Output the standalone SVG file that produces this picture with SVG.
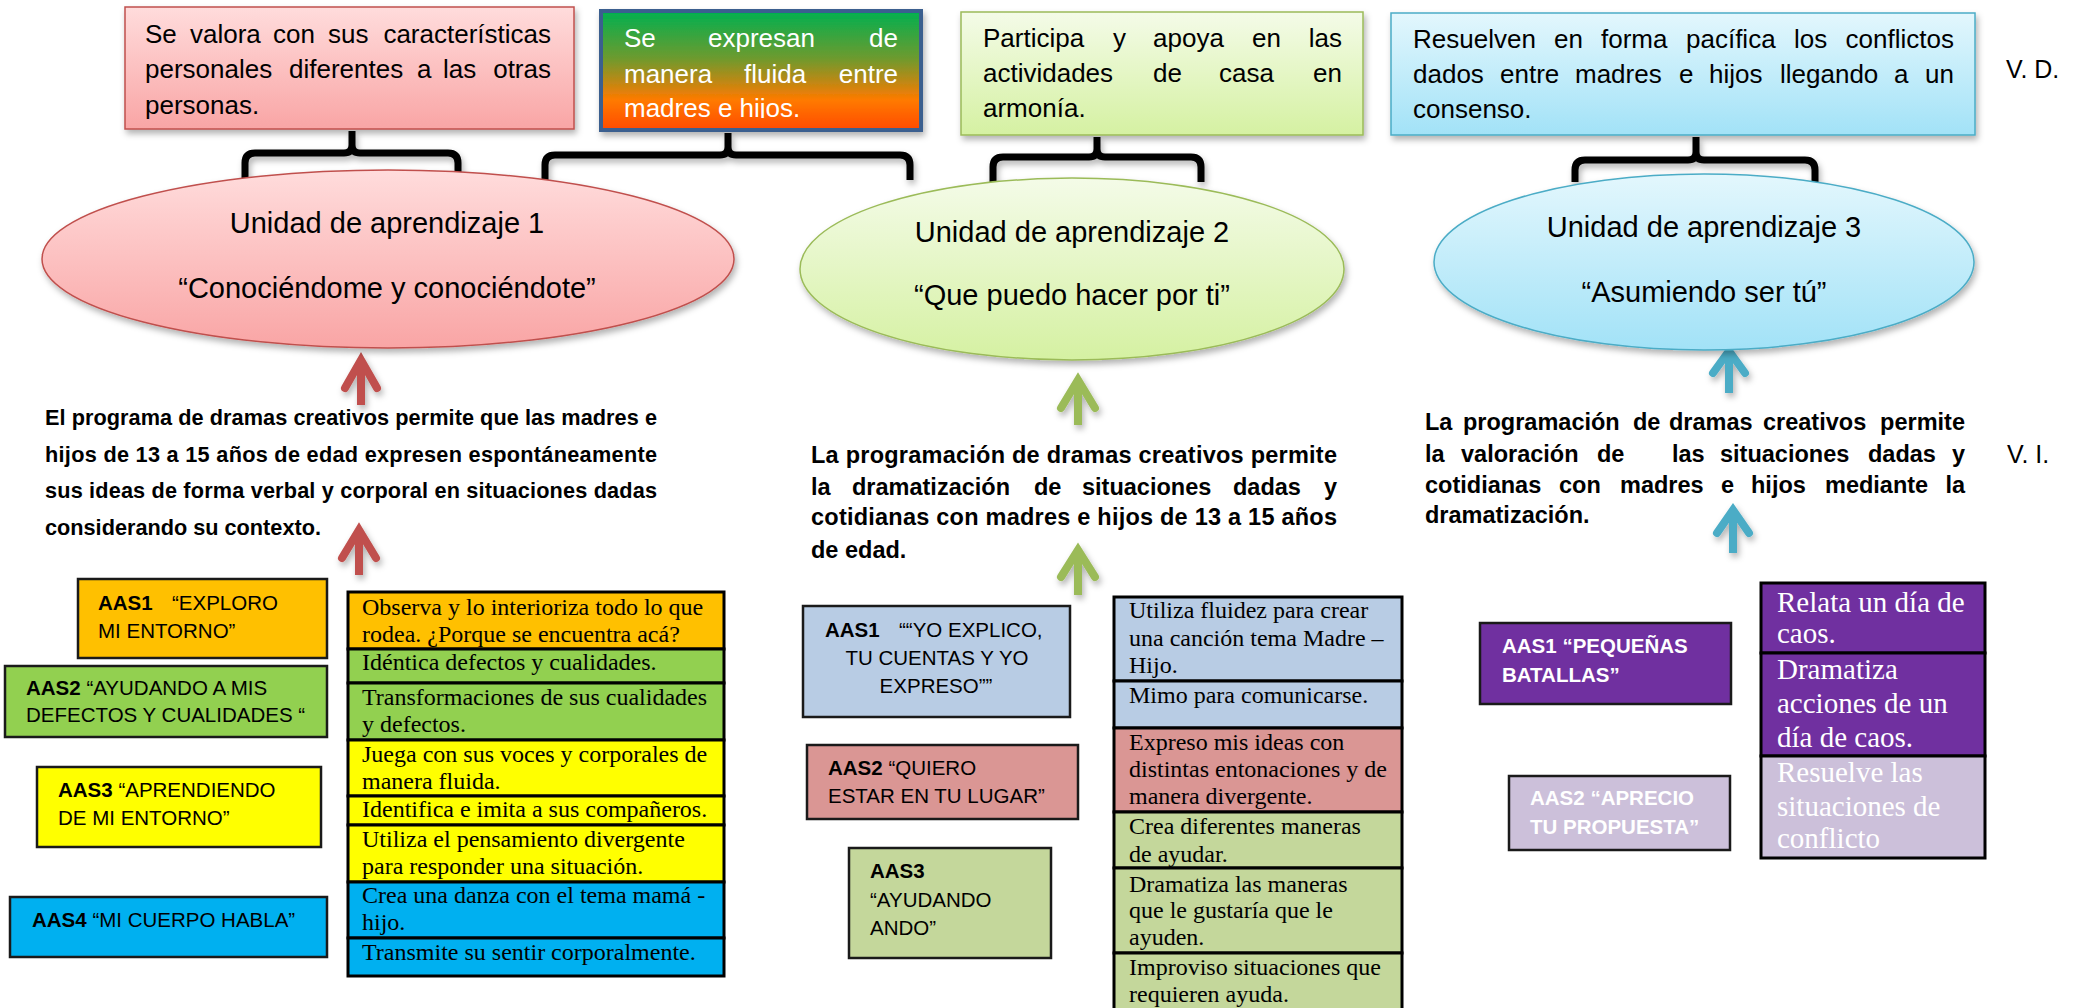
<svg xmlns="http://www.w3.org/2000/svg" width="2078" height="1008" viewBox="0 0 2078 1008">
<defs>
<linearGradient id="gPink" x1="0" y1="0" x2="0" y2="1"><stop offset="0" stop-color="#FFDCDC"/><stop offset="1" stop-color="#F9A5A5"/></linearGradient>
<linearGradient id="gGreen" x1="0" y1="0" x2="0" y2="1"><stop offset="0" stop-color="#F4FBE8"/><stop offset="1" stop-color="#D5F1A2"/></linearGradient>
<linearGradient id="gBlue" x1="0" y1="0" x2="0" y2="1"><stop offset="0" stop-color="#E3F7FD"/><stop offset="1" stop-color="#A2E2F7"/></linearGradient>
<linearGradient id="gMulti" x1="0" y1="0" x2="0" y2="1"><stop offset="0" stop-color="#00B050"/><stop offset="0.4" stop-color="#6E9A2E"/><stop offset="0.75" stop-color="#FF7A00"/><stop offset="1" stop-color="#FF4A00"/></linearGradient>
<filter id="sh" x="-10%" y="-10%" width="130%" height="150%"><feDropShadow dx="2" dy="4" stdDeviation="3" flood-color="#000" flood-opacity="0.3"/></filter>
<clipPath id="clip2"><rect x="604" y="13" width="316" height="105"/></clipPath>
</defs>
<style>
.s{font-family:"Liberation Sans",Arial,sans-serif}
.top{font-size:26px;fill:#000}
.ell{font-size:29px;text-anchor:middle;fill:#000}
.hb{font-weight:bold;fill:#000}
.aas{font-size:20.5px;fill:#000}
.b{font-weight:bold}
.r{font-family:"Liberation Serif","Times New Roman",serif;font-size:24px;fill:#000}
.rw{font-family:"Liberation Serif","Times New Roman",serif;font-size:29px;fill:#fff}
.box{stroke:#1a1a1a;stroke-width:2.5}
.row{stroke:#000;stroke-width:3}
.br{fill:none;stroke:#000;stroke-width:7;stroke-linejoin:round}
.ar{fill:none;stroke-width:8}
</style>
<rect width="2078" height="1008" fill="#fff"/>

<g id="connectors">
<g filter="url(#sh)">
<path class="br" d="M245,178 V163 Q245,153 255,153 H344 Q352,153 352,145 V131 M352,145 Q352,153 360,153 H448 Q458,153 458,163 V178"/>
<path class="br" d="M545,180 V165 Q545,155 555,155 H720 Q728,155 728,147 V133 M728,147 Q728,155 736,155 H900 Q910,155 910,165 V180"/>
<path class="br" d="M993,182 V167 Q993,157 1003,157 H1089 Q1097,157 1097,149 V137 M1097,149 Q1097,157 1105,157 H1191 Q1201,157 1201,167 V182"/>
<path class="br" d="M1575,182 V170 Q1575,160 1585,160 H1688 Q1696,160 1696,152 V137 M1696,152 Q1696,160 1704,160 H1805 Q1815,160 1815,170 V182"/>
</g>
<g filter="url(#sh)">
<g stroke="#C0504D">
<path class="ar" d="M345,388 L361,360 L377,388" stroke-linecap="round"/><path class="ar" d="M361,362 V405"/>
<path class="ar" d="M342,558 L359,530 L376,558" stroke-linecap="round"/><path class="ar" d="M359,532 V575"/>
</g>
<g stroke="#9BBB59">
<path class="ar" d="M1061,408 L1078,380 L1095,408" stroke-linecap="round"/><path class="ar" d="M1078,382 V425"/>
<path class="ar" d="M1061,577 L1078,550 L1095,577" stroke-linecap="round"/><path class="ar" d="M1078,552 V595"/>
</g>
<g stroke="#4BACC6">
<path class="ar" d="M1713,373 L1729,351 L1745,373" stroke-linecap="round"/><path class="ar" d="M1729,353 V393"/>
<path class="ar" d="M1717,533 L1733,510 L1749,533" stroke-linecap="round"/><path class="ar" d="M1733,512 V553"/>
</g>
</g>
</g>

<g id="vd1">
<rect x="125" y="7" width="449" height="122" fill="url(#gPink)" stroke="#C0504D" stroke-width="1.5" filter="url(#sh)"/>
<text class="s top" y="43"><tspan x="145">Se</tspan><tspan x="190">valora</tspan><tspan x="273">con</tspan><tspan x="328">sus</tspan><tspan x="551" text-anchor="end">características</tspan></text>
<text class="s top" y="78"><tspan x="145">personales</tspan><tspan x="289">diferentes</tspan><tspan x="417">a</tspan><tspan x="443">las</tspan><tspan x="551" text-anchor="end">otras</tspan></text>
<text class="s top" x="145" y="114">personas.</text>
</g>

<g id="vd2">
<rect x="601" y="11" width="320" height="119" fill="url(#gMulti)" stroke="#3A5F8F" stroke-width="4" filter="url(#sh)"/>
<g clip-path="url(#clip2)">
<text class="s" font-size="26" fill="#fff" y="47"><tspan x="624">Se</tspan><tspan x="708">expresan</tspan><tspan x="898" text-anchor="end">de</tspan></text>
<text class="s" font-size="26" fill="#fff" y="83"><tspan x="624">manera</tspan><tspan x="744">fluida</tspan><tspan x="898" text-anchor="end">entre</tspan></text>
<text class="s" font-size="26" fill="#fff" x="624" y="117">madres e hijos.</text>
</g>
</g>

<g id="vd3">
<rect x="961" y="12" width="402" height="123" fill="url(#gGreen)" stroke="#9BBB59" stroke-width="1.5" filter="url(#sh)"/>
<text class="s top" y="47"><tspan x="983">Participa</tspan><tspan x="1113">y</tspan><tspan x="1153">apoya</tspan><tspan x="1252">en</tspan><tspan x="1342" text-anchor="end">las</tspan></text>
<text class="s top" y="82"><tspan x="983">actividades</tspan><tspan x="1153">de</tspan><tspan x="1219">casa</tspan><tspan x="1342" text-anchor="end">en</tspan></text>
<text class="s top" x="983" y="117">armonía.</text>
</g>

<g id="vd4">
<rect x="1391" y="13" width="584" height="122" fill="url(#gBlue)" stroke="#4BACC6" stroke-width="1.5" filter="url(#sh)"/>
<text class="s top" y="48"><tspan x="1413">Resuelven</tspan><tspan x="1554">en</tspan><tspan x="1601">forma</tspan><tspan x="1686">pacífica</tspan><tspan x="1794">los</tspan><tspan x="1954" text-anchor="end">conflictos</tspan></text>
<text class="s top" y="83"><tspan x="1413">dados</tspan><tspan x="1500">entre</tspan><tspan x="1575">madres</tspan><tspan x="1679">e</tspan><tspan x="1709">hijos</tspan><tspan x="1780">llegando</tspan><tspan x="1894">a</tspan><tspan x="1954" text-anchor="end">un</tspan></text>
<text class="s top" x="1413" y="118">consenso.</text>
</g>

<g id="label-vd"><text class="s" font-size="25" x="2006" y="78">V. D.</text></g>

<g id="unidad1">
<ellipse cx="388" cy="259" rx="346" ry="89" fill="url(#gPink)" stroke="#C0504D" stroke-width="1.5" filter="url(#sh)"/>
<text class="s ell" x="387" y="233">Unidad de aprendizaje 1</text>
<text class="s ell" x="387" y="298">“Conociéndome y conociéndote”</text>
</g>
<g id="unidad2">
<ellipse cx="1072" cy="269" rx="272" ry="91" fill="url(#gGreen)" stroke="#9BBB59" stroke-width="1.5" filter="url(#sh)"/>
<text class="s ell" x="1072" y="242">Unidad de aprendizaje 2</text>
<text class="s ell" x="1072" y="305">“Que puedo hacer por ti”</text>
</g>
<g id="unidad3">
<ellipse cx="1704" cy="262" rx="270" ry="88" fill="url(#gBlue)" stroke="#4BACC6" stroke-width="1.5" filter="url(#sh)"/>
<text class="s ell" x="1704" y="237">Unidad de aprendizaje 3</text>
<text class="s ell" x="1704" y="302">“Asumiendo ser tú”</text>
</g>

<g id="vi1" class="s hb" font-size="21.7">
<text x="45" y="425" textLength="612" lengthAdjust="spacing">El programa de dramas creativos permite que las madres e</text>
<text x="45" y="462" textLength="612" lengthAdjust="spacing">hijos de 13 a 15 años de edad expresen espontáneamente</text>
<text x="45" y="498" textLength="612" lengthAdjust="spacing">sus ideas de forma verbal y corporal en situaciones dadas</text>
<text x="45" y="535">considerando su contexto.</text>
</g>
<g id="vi2" class="s hb" font-size="23.5">
<text x="811" y="463" textLength="526" lengthAdjust="spacing">La programación de dramas creativos permite</text>
<text y="495"><tspan x="811">la</tspan><tspan x="852">dramatización</tspan><tspan x="1034">de</tspan><tspan x="1082">situaciones</tspan><tspan x="1233">dadas</tspan><tspan x="1337" text-anchor="end">y</tspan></text>
<text x="811" y="525" textLength="526" lengthAdjust="spacing">cotidianas con madres e hijos de 13 a 15 años</text>
<text x="811" y="558">de edad.</text>
</g>
<g id="vi3" class="s hb" font-size="23.5">
<text y="430"><tspan x="1425">La</tspan><tspan x="1463">programación</tspan><tspan x="1633">de</tspan><tspan x="1669">dramas</tspan><tspan x="1763">creativos</tspan><tspan x="1965" text-anchor="end">permite</tspan></text>
<text y="462"><tspan x="1425">la</tspan><tspan x="1461">valoración</tspan><tspan x="1597">de</tspan><tspan x="1672">las</tspan><tspan x="1720">situaciones</tspan><tspan x="1868">dadas</tspan><tspan x="1965" text-anchor="end">y</tspan></text>
<text y="493"><tspan x="1425">cotidianas</tspan><tspan x="1559">con</tspan><tspan x="1620">madres</tspan><tspan x="1721">e</tspan><tspan x="1751">hijos</tspan><tspan x="1825">mediante</tspan><tspan x="1965" text-anchor="end">la</tspan></text>
<text x="1425" y="523">dramatización.</text>
</g>
<g id="label-vi"><text class="s" font-size="25" x="2007" y="463">V. I.</text></g>

<g id="u1-aas1">
<rect class="box" x="78" y="579" width="249" height="79" fill="#FFC000"/>
<text class="s aas" y="610"><tspan x="98" class="b">AAS1</tspan><tspan x="172">“EXPLORO</tspan></text>
<text class="s aas" x="98" y="638">MI ENTORNO”</text>
</g>
<g id="u1-aas2">
<rect class="box" x="5" y="666" width="322" height="71" fill="#92D050"/>
<text class="s aas" x="26" y="695"><tspan class="b">AAS2</tspan> “AYUDANDO A MIS</text>
<text class="s aas" x="26" y="722">DEFECTOS Y CUALIDADES “</text>
</g>
<g id="u1-aas3">
<rect class="box" x="37" y="767" width="284" height="80" fill="#FFFF00"/>
<text class="s aas" x="58" y="797"><tspan class="b">AAS3</tspan> “APRENDIENDO</text>
<text class="s aas" x="58" y="825">DE MI ENTORNO”</text>
</g>
<g id="u1-aas4">
<rect class="box" x="10" y="897" width="317" height="60" fill="#00B0F0"/>
<text class="s aas" x="32" y="927"><tspan class="b">AAS4</tspan> “MI CUERPO HABLA”</text>
</g>

<g id="u1-actividades">
<rect class="row" x="348" y="592" width="376" height="57" fill="#FFC000"/>
<rect class="row" x="348" y="649" width="376" height="34" fill="#92D050"/>
<rect class="row" x="348" y="683" width="376" height="57" fill="#92D050"/>
<rect class="row" x="348" y="740" width="376" height="56" fill="#FFFF00"/>
<rect class="row" x="348" y="796" width="376" height="29" fill="#FFFF00"/>
<rect class="row" x="348" y="825" width="376" height="57" fill="#FFFF00"/>
<rect class="row" x="348" y="882" width="376" height="56" fill="#00B0F0"/>
<rect class="row" x="348" y="938" width="376" height="38" fill="#00B0F0"/>
<text class="r" x="362" y="615">Observa y lo interioriza todo lo que</text>
<text class="r" x="362" y="642">rodea. ¿Porque se encuentra acá?</text>
<text class="r" x="362" y="670">Idéntica defectos y cualidades.</text>
<text class="r" x="362" y="705">Transformaciones de sus cualidades</text>
<text class="r" x="362" y="732">y defectos.</text>
<text class="r" x="362" y="762">Juega con sus voces y corporales de</text>
<text class="r" x="362" y="789">manera fluida.</text>
<text class="r" x="362" y="817">Identifica e imita a sus compañeros.</text>
<text class="r" x="362" y="847">Utiliza el pensamiento divergente</text>
<text class="r" x="362" y="874">para responder una situación.</text>
<text class="r" x="362" y="903">Crea una danza con el tema mamá -</text>
<text class="r" x="362" y="930">hijo.</text>
<text class="r" x="362" y="960">Transmite su sentir corporalmente.</text>
</g>

<g id="u2-aas1">
<rect class="box" x="803" y="606" width="267" height="111" fill="#B8CCE4"/>
<text class="s aas" y="637"><tspan x="825" class="b">AAS1</tspan><tspan x="899">““YO EXPLICO,</tspan></text>
<text class="s aas" x="937" y="665" text-anchor="middle">TU CUENTAS Y YO</text>
<text class="s aas" x="936" y="693" text-anchor="middle">EXPRESO””</text>
</g>
<g id="u2-aas2">
<rect class="box" x="807" y="745" width="271" height="74" fill="#DA9694"/>
<text class="s aas" x="828" y="775"><tspan class="b">AAS2</tspan> “QUIERO</text>
<text class="s aas" x="828" y="803">ESTAR EN TU LUGAR”</text>
</g>
<g id="u2-aas3">
<rect class="box" x="849" y="848" width="202" height="110" fill="#C4D79B"/>
<text class="s aas b" x="870" y="878">AAS3</text>
<text class="s aas" x="870" y="907">“AYUDANDO</text>
<text class="s aas" x="870" y="935">ANDO”</text>
</g>

<g id="u2-actividades">
<rect class="row" x="1114" y="597" width="288" height="84" fill="#B8CCE4"/>
<rect class="row" x="1114" y="681" width="288" height="47" fill="#B8CCE4"/>
<rect class="row" x="1114" y="728" width="288" height="84" fill="#DA9694"/>
<rect class="row" x="1114" y="812" width="288" height="56" fill="#C4D79B"/>
<rect class="row" x="1114" y="868" width="288" height="85" fill="#C4D79B"/>
<rect class="row" x="1114" y="953" width="288" height="60" fill="#C4D79B"/>
<text class="r" x="1129" y="618">Utiliza fluidez para crear</text>
<text class="r" x="1129" y="646">una canción tema Madre –</text>
<text class="r" x="1129" y="673">Hijo.</text>
<text class="r" x="1129" y="703">Mimo para comunicarse.</text>
<text class="r" x="1129" y="750">Expreso mis ideas con</text>
<text class="r" x="1129" y="777">distintas entonaciones y de</text>
<text class="r" x="1129" y="804">manera divergente.</text>
<text class="r" x="1129" y="834">Crea diferentes maneras</text>
<text class="r" x="1129" y="862">de ayudar.</text>
<text class="r" x="1129" y="892">Dramatiza las maneras</text>
<text class="r" x="1129" y="918">que le gustaría que le</text>
<text class="r" x="1129" y="945">ayuden.</text>
<text class="r" x="1129" y="975">Improviso situaciones que</text>
<text class="r" x="1129" y="1002">requieren ayuda.</text>
</g>

<g id="u3-aas1">
<rect class="box" x="1480" y="623" width="251" height="81" fill="#7030A0"/>
<text class="s aas b" style="fill:#fff" x="1502" y="653">AAS1 “PEQUEÑAS</text>
<text class="s aas b" style="fill:#fff" x="1502" y="682">BATALLAS”</text>
</g>
<g id="u3-aas2">
<rect class="box" x="1509" y="776" width="221" height="74" fill="#CCC0DA"/>
<text class="s aas b" style="fill:#fff" x="1530" y="805">AAS2 “APRECIO</text>
<text class="s aas b" style="fill:#fff" x="1530" y="834">TU PROPUESTA”</text>
</g>

<g id="u3-actividades">
<rect class="row" x="1761" y="583" width="224" height="70" fill="#7030A0"/>
<rect class="row" x="1761" y="653" width="224" height="103" fill="#7030A0"/>
<rect class="row" x="1761" y="756" width="224" height="102" fill="#CCC0DA"/>
<text class="rw" x="1777" y="612">Relata un día de</text>
<text class="rw" x="1777" y="643">caos.</text>
<text class="rw" x="1777" y="679">Dramatiza</text>
<text class="rw" x="1777" y="713">acciones de un</text>
<text class="rw" x="1777" y="747">día de caos.</text>
<text class="rw" x="1777" y="782">Resuelve las</text>
<text class="rw" x="1777" y="816">situaciones de</text>
<text class="rw" x="1777" y="848">conflicto</text>
</g>
</svg>
